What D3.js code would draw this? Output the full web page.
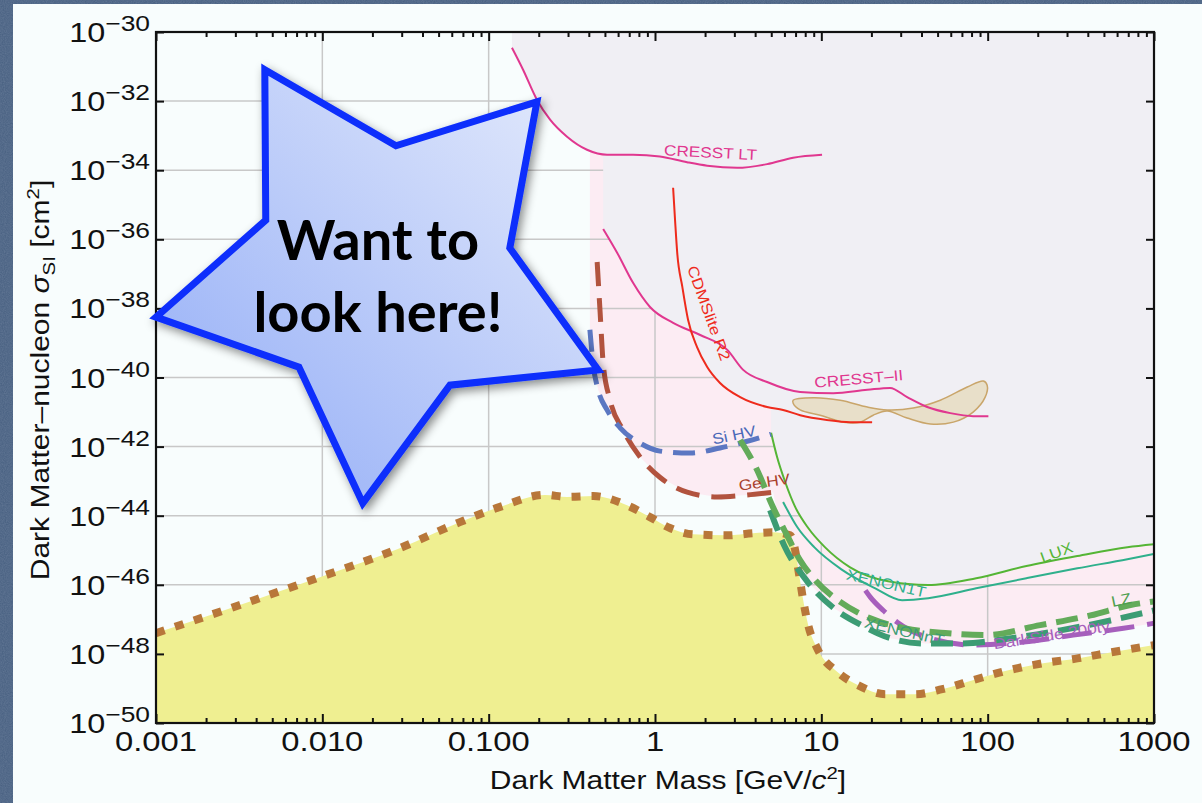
<!DOCTYPE html>
<html>
<head>
<meta charset="utf-8">
<script src="https://cdn.jsdelivr.net/npm/d3@7"></script>
<style>
  body { margin: 0; background: #4a6283; }
  svg { display: block; }
  text { font-family: "Liberation Sans", Arial, Helvetica, sans-serif; }
</style>
</head>
<body>
<svg id="chart"></svg>
<script>
// axis ticks
var massTicks = [0.001, 0.01, 0.1, 1, 10, 100, 1000];
var massTickLabels = ["0.001", "0.010", "0.100", "1", "10", "100", "1000"];
var sigmaTickExponents = [-30, -32, -34, -36, -38, -40, -42, -44, -46, -48, -50];

// curves: [mass GeV, cross section cm^2]
var cresstLT = [[0.138, 3.5e-31], [0.161, 8.1e-32], [0.195, 1.1e-32], [0.234, 2.9e-33], [0.296, 9.3e-34],
  [0.39, 3.9e-34], [0.515, 2.8e-34], [0.738, 2.8e-34], [1.07, 2.5e-34], [1.56, 1.7e-34], [2.06, 1.35e-34],
  [3.12, 1.17e-34], [4.72, 1.5e-34], [6.77, 2.3e-34], [10.1, 2.8e-34]];
var cresstII = [[0.488, 2.0e-36], [0.592, 4.1e-37], [0.738, 5.5e-38], [0.933, 1.1e-38], [1.285, 3.8e-39],
  [1.87, 1.7e-39], [2.72, 6.3e-40], [3.39, 1.66e-40], [4.72, 7.4e-41], [7.46, 3.8e-41], [11.8, 3.5e-41],
  [18.9, 4.4e-41], [25.9, 5.0e-41], [32.8, 2.7e-41], [43.3, 1.4e-41], [59.6, 9.3e-42], [81.8, 7.6e-42], [101, 7.6e-42]];
var cdmsLite = [[1.285, 3.1e-35], [1.32, 3.6e-36], [1.36, 4.1e-37], [1.46, 4.2e-38], [1.58, 4.7e-39],
  [1.79, 7.6e-40], [2.06, 2.0e-40], [2.46, 6.9e-41], [3.25, 2.7e-41], [4.72, 1.4e-41], [5.89, 1.15e-41],
  [7.46, 8.1e-42], [10.8, 5.9e-42], [14.9, 5.1e-42], [20.2, 5.1e-42]];
var signalRegion = [[6.77, 2.2e-41], [8.93, 2.6e-41], [13.0, 2.2e-41], [18.9, 1.4e-41], [24.9, 1.15e-41],
  [35.7, 1.3e-41], [51.9, 2.2e-41], [75.4, 5.3e-41], [94.2, 7.9e-41], [99.3, 6.0e-41], [96.6, 2.7e-41],
  [81.8, 1.0e-41], [62.2, 5.1e-42], [45.2, 4.5e-42], [32.8, 6.7e-42], [24.9, 1.07e-41], [20.5, 8.1e-42],
  [17.1, 5.1e-42], [13.6, 5.1e-42], [9.84, 8.1e-42], [7.46, 1.15e-41], [6.77, 1.8e-41]];
var siHV = [[0.406, 2.4e-39], [0.425, 2.3e-40], [0.455, 4.4e-41], [0.515, 1.15e-41], [0.617, 3.5e-42],
  [0.813, 1.26e-42], [1.07, 7.4e-43], [1.63, 6.5e-43], [2.46, 9.1e-43], [3.63, 1.45e-42], [4.99, 2.3e-42]];
var geHV = [[0.449, 2.2e-37], [0.468, 7.4e-39], [0.488, 2.6e-40], [0.537, 2.2e-41], [0.643, 3.0e-42],
  [0.813, 5.0e-43], [1.07, 1.3e-43], [1.56, 4.8e-44], [2.37, 3.5e-44], [3.58, 4.0e-44], [5.13, 4.8e-44]];
var lux = [[4.99, 2.5e-42], [5.42, 5.0e-43], [6.07, 9.3e-44], [6.96, 1.8e-44], [8.34, 4.4e-45], [10.5, 1.23e-45],
  [14.9, 3.2e-46], [25.2, 1.26e-46], [43.9, 9.8e-47], [85.3, 1.55e-46], [171, 3.5e-46], [346, 6.8e-46],
  [692, 1.23e-45], [1000, 1.5e-45]];
var xenon1T = [[5.89, 2.5e-44], [7.16, 4.7e-45], [9.06, 1.23e-45], [13.2, 2.8e-46], [21.1, 7.9e-47],
  [30.6, 3.6e-47], [43.9, 4.1e-47], [85.3, 7.9e-47], [171, 1.55e-46], [346, 3.0e-46], [692, 5.5e-46], [1000, 7.8e-46]];
var lz = [[3.25, 1.55e-42], [4.11, 2.1e-43], [5.06, 2.0e-44], [6.22, 2.7e-45], [7.46, 5.1e-46], [9.19, 1.35e-46],
  [13.0, 3.2e-47], [19.7, 1.07e-47], [32.0, 5.5e-48], [55.6, 4.0e-48], [96.6, 3.5e-48], [207, 6.8e-48],
  [415, 1.3e-47], [722, 2.6e-47], [1000, 3.3e-47]];
var xenonNT = [[4.92, 1.45e-44], [5.97, 1.4e-45], [8.22, 1.26e-46], [11.9, 2.1e-47], [17.4, 6.8e-48],
  [26.3, 2.8e-48], [42.1, 2.0e-48], [67.5, 2.0e-48], [135, 2.8e-48], [274, 4.8e-48], [547, 9.3e-48], [1000, 1.8e-47]];
var darkSide = [[18.4, 6.9e-47], [19.7, 4.4e-47], [23.6, 1.8e-47], [28.6, 8.3e-48], [43.3, 3.0e-48],
  [81.8, 1.8e-48], [164, 2.2e-48], [327, 3.5e-48], [655, 5.5e-48], [1000, 7.7e-48]];
var neutrinoFloor = [[0.001, 4.0e-48], [0.00319, 2.6e-47], [0.00966, 1.66e-46], [0.0292, 1.15e-45],
  [0.0671, 6.5e-45], [0.117, 1.8e-44], [0.218, 4.0e-44], [0.296, 3.5e-44], [0.425, 3.7e-44], [0.679, 2.0e-44],
  [0.933, 9.1e-45], [1.23, 4.4e-45], [1.69, 2.9e-45], [2.72, 2.7e-45], [3.89, 3.1e-45], [5.13, 3.3e-45],
  [6.5, 2.7e-45], [6.96, 1.0e-45], [7.36, 1.9e-46], [7.78, 3.6e-47], [8.34, 6.8e-48], [9.44, 1.45e-48],
  [12.6, 2.9e-49], [16.7, 1.23e-49], [24.2, 6.8e-50], [36.6, 6.8e-50], [53.3, 9.5e-50], [85.3, 1.85e-49],
  [135, 3.4e-49], [216, 5.4e-49], [346, 7.4e-49], [547, 1.1e-48], [1000, 1.8e-48]];

// shaded regions, built from the curves above
var excludedEdge = [[0.138, 1e-30]]
  .concat(cresstLT.filter(function (d) { return d[0] <= 0.39; }), [[0.488, 2.9e-34]],
    cresstII.filter(function (d) { return d[0] <= 1.285; }), [[1.69, 2.1e-39]],
    cdmsLite.filter(function (d) { return d[0] >= 1.79 && d[0] <= 3.25; }), [[4.99, 1.3e-41]],
    lux, [[1000, 1e-30]]);
var projectedEdge = [[0.406, 1e-30]]
  .concat(siHV.filter(function (d) { return d[0] <= 0.617; }),
    geHV.filter(function (d) { return d[0] >= 0.643; }),
    xenonNT.filter(function (d) { return d[0] >= 5.97 && d[0] <= 67.5; }),
    darkSide.filter(function (d) { return d[0] >= 81.8; }), [[1000, 1e-30]]);

// star call-out
var starVertices = [[0.00451, 8.1e-32], [0.0277, 5.1e-34], [0.195, 9.5e-33], [0.134, 5.6e-37], [0.455, 1.66e-40],
  [0.0585, 6.0e-41], [0.0175, 2.3e-44], [0.00723, 2.0e-40], [0.001, 5.6e-39], [0.00457, 3.6e-36]];

var width = 1202, height = 803;
var svg = d3.select("#chart").attr("width", width).attr("height", height);

var x = d3.scaleLog().domain([0.001, 1000]).range([156, 1154]);
var y = d3.scaleLog().domain([1e-50, 1e-30]).range([723, 32]);

var defs = svg.append("defs");
defs.append("clipPath").attr("id", "plotClip").append("rect")
  .attr("x", 156).attr("y", 32).attr("width", 998).attr("height", 691);
var grad = defs.append("linearGradient").attr("id", "starFill")
  .attr("x1", 1).attr("y1", 0).attr("x2", 0).attr("y2", 1);
grad.append("stop").attr("offset", "0%").attr("stop-color", "#e6ecfc");
grad.append("stop").attr("offset", "100%").attr("stop-color", "#8faaf6");
var shadow = defs.append("filter").attr("id", "starShadow")
  .attr("x", "-20%").attr("y", "-20%").attr("width", "140%").attr("height", "140%");
shadow.append("feDropShadow").attr("dx", 3).attr("dy", 4).attr("stdDeviation", 5)
  .attr("flood-color", "#000").attr("flood-opacity", 0.45);
var noise = defs.append("filter").attr("id", "noise");
noise.append("feTurbulence").attr("type", "fractalNoise").attr("baseFrequency", 0.9).attr("numOctaves", 2);
noise.append("feColorMatrix").attr("values", "0 0 0 0 0.8  0 0 0 0 0.85  0 0 0 0 0.95  0 0 0 0.35 -0.05");

// slide background and white panel
svg.append("rect").attr("width", width).attr("height", height).attr("fill", "#4a6283");
svg.append("rect").attr("width", width).attr("height", height).attr("filter", "url(#noise)").attr("opacity", 0.5);
svg.append("rect").attr("x", 13).attr("y", 4).attr("width", width - 13).attr("height", height - 4)
  .attr("fill", "#f8fdfd");

var plot = svg.append("g").attr("clip-path", "url(#plotClip)");

var linear = d3.line().x(function (d) { return x(d[0]); }).y(function (d) { return y(d[1]); });
var smooth = d3.line().x(function (d) { return x(d[0]); }).y(function (d) { return y(d[1]); })
  .curve(d3.curveMonotoneX);

// pink projected-reach region
plot.append("path").attr("d", linear(projectedEdge) + "Z").attr("fill", "#fcecf3");

// grid
plot.selectAll(".vgrid").data(massTicks.slice(1, -1)).enter().append("line")
  .attr("x1", function (d) { return x(d); }).attr("x2", function (d) { return x(d); })
  .attr("y1", 32).attr("y2", 723).attr("stroke", "#c8c8c8").attr("stroke-width", 1.5);
plot.selectAll(".hgrid").data(sigmaTickExponents.slice(1, -1)).enter().append("line")
  .attr("y1", function (d) { return y(Math.pow(10, d)); }).attr("y2", function (d) { return y(Math.pow(10, d)); })
  .attr("x1", 156).attr("x2", 1154).attr("stroke", "#c8c8c8").attr("stroke-width", 1.5);

// grey excluded region
plot.append("path").attr("d", linear(excludedEdge) + "Z").attr("fill", "#f0eff4");

// yellow neutrino background
plot.append("path")
  .attr("d", d3.area().x(function (d) { return x(d[0]); }).y0(723).y1(function (d) { return y(d[1]); })
    .curve(d3.curveMonotoneX)(neutrinoFloor))
  .attr("fill", "#efef91");

// signal contour
plot.append("path")
  .attr("d", d3.line().x(function (d) { return x(d[0]); }).y(function (d) { return y(d[1]); })
    .curve(d3.curveCatmullRomClosed)(signalRegion))
  .attr("fill", "#e8dfc9").attr("stroke", "#c9a56a").attr("stroke-width", 1.5);

var solidCurves = [
  { data: cresstLT, color: "#e0378f" },
  { data: cresstII, color: "#e0378f" },
  { data: cdmsLite, color: "#ee2b1c" },
  { data: lux, color: "#55b535" },
  { data: xenon1T, color: "#2fb08c" }
];
solidCurves.forEach(function (c) {
  plot.append("path").attr("d", smooth(c.data)).attr("fill", "none")
    .attr("stroke", c.color).attr("stroke-width", 2);
});

// neutrino floor (dotted)
plot.append("path").attr("d", smooth(neutrinoFloor)).attr("fill", "none")
  .attr("stroke", "#b8773a").attr("stroke-width", 8).attr("stroke-dasharray", "9 11");

var dashedCurves = [
  { data: geHV, color: "#b2533e", w: 5, dash: "24 12" },
  { data: siHV, color: "#5b77c2", w: 5, dash: "22 11" },
  { data: darkSide, color: "#a65fbc", w: 5, dash: "30 13" },
  { data: xenonNT, color: "#3c9c74", w: 6, dash: "22 10" },
  { data: lz, color: "#63ab5a", w: 6, dash: "22 10" }
];
dashedCurves.forEach(function (c) {
  plot.append("path").attr("d", smooth(c.data)).attr("fill", "none")
    .attr("stroke", c.color).attr("stroke-width", c.w).attr("stroke-dasharray", c.dash);
});

// curve labels
var curveLabels = [
  { text: "CRESST LT", at: [2.15, 2.3e-34], rot: 3, color: "#e0378f" },
  { text: "CRESST\u2013II", at: [16.9, 6.5e-41], rot: -5, color: "#e0378f" },
  { text: "CDMSlite R2", at: [1.97, 6.5e-39], rot: 70, color: "#ee2b1c" },
  { text: "Si HV", at: [3.03, 1.55e-42], rot: -12, color: "#4a68b8" },
  { text: "Ge HV", at: [4.59, 6.7e-44], rot: -8, color: "#a8402c" },
  { text: "LUX", at: [266, 6.3e-46], rot: -20, color: "#55b535" },
  { text: "XENON1T", at: [24.2, 7.9e-47], rot: 13, color: "#2fb08c" },
  { text: "XENONnT", at: [31.1, 3.2e-48], rot: 13, color: "#3c9c74" },
  { text: "DarkSide 200ty", at: [245, 2.5e-48], rot: -9, color: "#a65fbc" },
  { text: "LZ", at: [646, 2.6e-47], rot: -12, color: "#4f9f4f" }
];
plot.selectAll(".clabel").data(curveLabels).enter().append("text")
  .attr("transform", function (d) {
    return "translate(" + x(d.at[0]) + "," + y(d.at[1]) + ") rotate(" + d.rot + ") scale(1.15,1)";
  })
  .attr("text-anchor", "middle").style("font-size", "15px")
  .attr("fill", function (d) { return d.color; })
  .text(function (d) { return d.text; });

// frame and inward ticks
var minorMass = [];
massTicks.slice(0, -1).forEach(function (d) {
  for (var k = 2; k < 10; k++) minorMass.push(d * k);
});
function styleAxis(g) {
  g.select(".domain").remove();
  g.selectAll("line").attr("stroke", "#111").attr("stroke-width", 2);
}
svg.append("g").attr("transform", "translate(0,723)")
  .call(d3.axisBottom(x).tickValues(massTicks).tickSize(-9).tickFormat("")).call(styleAxis);
svg.append("g").attr("transform", "translate(0,723)")
  .call(d3.axisBottom(x).tickValues(minorMass).tickSize(-5).tickFormat("")).call(styleAxis);
svg.append("g").attr("transform", "translate(0,32)")
  .call(d3.axisTop(x).tickValues(massTicks).tickSize(-9).tickFormat("")).call(styleAxis);
svg.append("g").attr("transform", "translate(0,32)")
  .call(d3.axisTop(x).tickValues(minorMass).tickSize(-5).tickFormat("")).call(styleAxis);
var sigmaTicks = sigmaTickExponents.map(function (e) { return Math.pow(10, e); });
svg.append("g").attr("transform", "translate(156,0)")
  .call(d3.axisLeft(y).tickValues(sigmaTicks).tickSize(-8).tickFormat("")).call(styleAxis);
svg.append("g").attr("transform", "translate(1154,0)")
  .call(d3.axisRight(y).tickValues(sigmaTicks).tickSize(-8).tickFormat("")).call(styleAxis);
svg.append("rect").attr("x", 156).attr("y", 32).attr("width", 998).attr("height", 691)
  .attr("fill", "none").attr("stroke", "#111").attr("stroke-width", 2.2);

// tick labels
massTicks.forEach(function (d, i) {
  svg.append("text").attr("transform", "translate(" + x(d) + ",751) scale(1.17,1)")
    .attr("text-anchor", "middle").style("font-size", "28px").attr("fill", "#111")
    .text(massTickLabels[i]);
});
sigmaTickExponents.forEach(function (e) {
  var t = svg.append("text").attr("transform", "translate(150," + (y(Math.pow(10, e)) + 10) + ") scale(1.2,1)")
    .attr("text-anchor", "end").style("font-size", "27px").attr("fill", "#111");
  t.append("tspan").text("10");
  t.append("tspan").attr("dy", -11).style("font-size", "22px").text("\u2212" + Math.abs(e));
});

// axis titles
var xt = svg.append("text").attr("transform", "translate(668,789) scale(1.2,1)")
  .attr("text-anchor", "middle").style("font-size", "25px").attr("fill", "#111");
xt.append("tspan").text("Dark Matter Mass [GeV/");
xt.append("tspan").style("font-style", "italic").text("c");
xt.append("tspan").attr("dy", -10).style("font-size", "17px").text("2");
xt.append("tspan").attr("dy", 10).text("]");

var yt = svg.append("text").attr("transform", "translate(49,380) rotate(-90) scale(1.2,1)")
  .attr("text-anchor", "middle").style("font-size", "25px").attr("fill", "#111");
yt.append("tspan").text("Dark Matter\u2013nucleon ");
yt.append("tspan").style("font-style", "italic").text("\u03c3");
yt.append("tspan").attr("dy", 6).style("font-size", "17px").text("SI");
yt.append("tspan").attr("dy", -6).text(" [cm");
yt.append("tspan").attr("dy", -10).style("font-size", "17px").text("2");
yt.append("tspan").attr("dy", 10).text("]");

// star call-out
var star = svg.append("g");
star.append("path").attr("d", linear(starVertices) + "Z")
  .attr("fill", "url(#starFill)").attr("stroke", "#0b2dfc").attr("stroke-width", 7)
  .attr("stroke-linejoin", "miter").attr("filter", "url(#starShadow)");
[["Want to", 2.54e-37], ["look here!", 2.1e-39]].forEach(function (l) {
  star.append("text").attr("x", x(0.0216)).attr("y", y(l[1]))
    .attr("text-anchor", "middle").style("font-family", "Lato, 'Open Sans', sans-serif")
    .style("font-weight", 700).style("font-size", "56px").attr("fill", "#000").text(l[0]);
});
</script>
</body>
</html>
